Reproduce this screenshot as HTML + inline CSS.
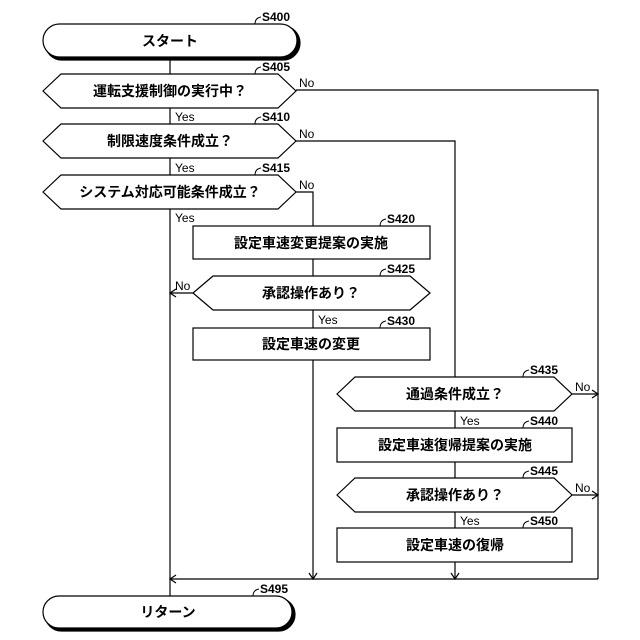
<!DOCTYPE html>
<html><head><meta charset="utf-8"><style>
html,body{margin:0;padding:0;background:#fff;}
svg{display:block;}
text{font-family:"Liberation Sans","Noto Sans CJK JP",sans-serif;fill:#000;}
.j{font-size:14px;font-weight:bold;}
.s{font-size:12px;font-weight:bold;}
.l{font-size:12px;}
</style></head><body>
<svg width="640" height="640" viewBox="0 0 640 640" xmlns="http://www.w3.org/2000/svg">
<defs>
<marker id="ad" markerWidth="10" markerHeight="10" refX="5" refY="8" orient="auto" markerUnits="userSpaceOnUse">
<path d="M1,2 L5,8 L9,2" fill="none" stroke="#000" stroke-width="1"/></marker>
</defs>
<g fill="none" stroke="#000" stroke-width="1.2">
<!-- main vertical -->
<line x1="170" y1="58" x2="170" y2="597"/>
<!-- rails -->
<polyline points="296,90 598,90 598,579"/>
<polyline points="296,141 455,141 455,377"/>
<polyline points="296,192 313,192 313,226"/>
<line x1="313" y1="259" x2="313" y2="276"/>
<line x1="313" y1="310" x2="313" y2="328"/>
<line x1="313" y1="360" x2="313" y2="579"/>
<line x1="455" y1="411" x2="455" y2="428"/>
<line x1="455" y1="462" x2="455" y2="478"/>
<line x1="455" y1="512" x2="455" y2="528"/>
<line x1="455" y1="562" x2="455" y2="579"/>
<line x1="170" y1="579" x2="598" y2="579"/>
<line x1="193" y1="293" x2="170" y2="293"/>
<line x1="572" y1="394" x2="598" y2="394"/>
<line x1="572" y1="495" x2="598" y2="495"/>
<!-- arrowheads -->
<path d="M176,289 L170,293 L176,297"/>
<path d="M176,575 L170,579 L176,583"/>
<path d="M309,573 L313,579 L317,573"/>
<path d="M451,573 L455,579 L459,573"/>
<path d="M592,390 L598,394 L592,398"/>
<path d="M592,491 L598,495 L592,499"/>
</g>
<g fill="#fff" stroke="#000" stroke-width="1.2">
<!-- terminals with shadow -->
<rect x="45" y="26" width="255" height="34" rx="17" fill="#000"/>
<rect x="43" y="24" width="254" height="33" rx="16.5"/>
<rect x="45" y="598" width="250" height="33" rx="16.5" fill="#000"/>
<rect x="43" y="596" width="249" height="32" rx="16"/>
<!-- decisions -->
<polygon points="43,91 61,74 278,74 296,91 278,108 61,108"/>
<polygon points="43,141 61,124 278,124 296,141 278,158 61,158"/>
<polygon points="43,192 61,175 278,175 296,192 278,209 61,209"/>
<polygon points="193,293 213,276 410,276 430,293 410,310 213,310"/>
<polygon points="337,394 355,377 554,377 572,394 554,411 355,411"/>
<polygon points="337,495 355,478 554,478 572,495 554,512 355,512"/>
<!-- processes -->
<rect x="193" y="226" width="237" height="33"/>
<rect x="193" y="328" width="237" height="32"/>
<rect x="337" y="428" width="235" height="34"/>
<rect x="337" y="528" width="235" height="34"/>
</g>
<!-- step label hooks -->
<g fill="none" stroke="#000" stroke-width="1">
<path d="M255,24 q0,-6 6,-7"/>
<path d="M255,74 q0,-6 6,-7"/>
<path d="M255,124 q0,-6 6,-7"/>
<path d="M255,175 q0,-6 6,-7"/>
<path d="M380,226 q0,-6 6,-7"/>
<path d="M380,276 q0,-6 6,-7"/>
<path d="M380,328 q0,-6 6,-7"/>
<path d="M523,377 q0,-6 6,-7"/>
<path d="M523,428 q0,-6 6,-7"/>
<path d="M523,478 q0,-6 6,-7"/>
<path d="M523,528 q0,-6 6,-7"/>
<path d="M253,596 q0,-6 6,-7"/>
</g>
<g class="s">
<text x="262" y="21">S400</text>
<text x="262" y="71">S405</text>
<text x="262" y="121">S410</text>
<text x="262" y="172">S415</text>
<text x="387" y="223">S420</text>
<text x="387" y="273">S425</text>
<text x="387" y="325">S430</text>
<text x="530" y="374">S435</text>
<text x="530" y="425">S440</text>
<text x="530" y="475">S445</text>
<text x="530" y="525">S450</text>
<text x="260" y="593">S495</text>
</g>
<g class="l">
<text x="299" y="87">No</text>
<text x="299" y="138">No</text>
<text x="299" y="189">No</text>
<text x="175" y="290">No</text>
<text x="575" y="391">No</text>
<text x="575" y="492">No</text>
<text x="175" y="121">Yes</text>
<text x="175" y="172">Yes</text>
<text x="175" y="222">Yes</text>
<text x="318" y="324">Yes</text>
<text x="460" y="425">Yes</text>
<text x="460" y="525">Yes</text>
</g>
<g class="j" text-anchor="middle">
<text x="170" y="46">スタート</text>
<text x="170" y="96">運転支援制御の実行中？</text>
<text x="170" y="146">制限速度条件成立？</text>
<text x="170" y="197">システム対応可能条件成立？</text>
<text x="311" y="248">設定車速変更提案の実施</text>
<text x="311" y="298">承認操作あり？</text>
<text x="311" y="349">設定車速の変更</text>
<text x="455" y="399">通過条件成立？</text>
<text x="455" y="450">設定車速復帰提案の実施</text>
<text x="455" y="500">承認操作あり？</text>
<text x="455" y="550">設定車速の復帰</text>
<text x="168" y="617">リターン</text>
</g>
</svg>
</body></html>
